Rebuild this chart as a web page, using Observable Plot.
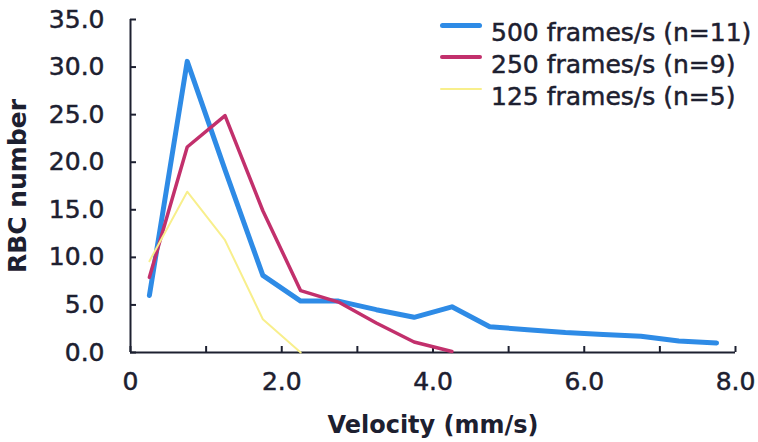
<!DOCTYPE html>
<html>
<head>
<meta charset="utf-8">
<script src="https://cdn.jsdelivr.net/npm/d3@7"></script>
<script src="https://cdn.jsdelivr.net/npm/@observablehq/plot@0.6"></script>
<style>
  html, body { margin: 0; padding: 0; background: #ffffff; }
  #wrap { position: relative; width: 758px; height: 442px; }
  #wrap svg text { stroke: #1d2030; stroke-width: 0.5px; }
  #wrap g[aria-label="x-axis label"] text { font-weight: bold; font-size: 24px; stroke-width: 0; }
  #wrap g[aria-label="y-axis label"] text { font-weight: bold; font-size: 25px; stroke-width: 0; }
  #legend {
    position: absolute; left: 440px; top: 16px;
    font-family: "DejaVu Sans", sans-serif; font-size: 25px; color: #1d2030;
    -webkit-text-stroke: 0.5px #1d2030;
  }
  .row { display: flex; align-items: center; height: 32px; white-space: nowrap; }
  .sw { width: 42px; margin-right: 9px; position: relative; top: -7px; border-radius: 3px; }
</style>
</head>
<body>
<div id="wrap"></div>
<script>
// ---- data ----
const seriesNames = ["500 frames/s (n=11)", "250 frames/s (n=9)", "125 frames/s (n=5)"];
const seriesColors = ["#2e8be6", "#c2306c", "#f8ef8c"];
const seriesWidths = [5, 3.5, 2];

const velocity500 = [0.25, 0.75, 1.25, 1.75, 2.25, 2.75, 3.25, 3.75, 4.25, 4.75, 5.25, 5.75, 6.25, 6.75, 7.25, 7.75];
const rbc500      = [6.0, 30.6, 19.2, 8.1, 5.4, 5.4, 4.5, 3.7, 4.8, 2.7, 2.4, 2.1, 1.9, 1.7, 1.2, 1.0];

const velocity250 = [0.25, 0.75, 1.25, 1.75, 2.25, 2.75, 3.25, 3.75, 4.25];
const rbc250      = [7.9, 21.6, 24.9, 14.9, 6.5, 5.3, 3.1, 1.1, 0.1];

const velocity125 = [0.25, 0.75, 1.25, 1.75, 2.25];
const rbc125      = [9.6, 16.9, 11.8, 3.5, 0.0];

const xTicks = [0, 1, 2, 3, 4, 5, 6, 7, 8];
const xLabelValues = [0, 2, 4, 6, 8];
const xLabelTexts = ["0", "2.0", "4.0", "6.0", "8.0"];
const yTicks = [0, 5, 10, 15, 20, 25, 30, 35];
const yLabelTexts = ["0.0", "5.0", "10.0", "15.0", "20.0", "25.0", "30.0", "35.0"];

// ---- build ----
const W = 758, H = 442;
const mL = 130, mR = 23, mT = 19, mB = 90;
const axisColor = "#1d2030";
const tickLen = 6;

const toRows = (vs, ys) => vs.map((v, i) => ({v, n: ys[i]}));
const series = [toRows(velocity500, rbc500), toRows(velocity250, rbc250), toRows(velocity125, rbc125)];

const plot = Plot.plot({
  width: W, height: H,
  marginLeft: mL, marginRight: mR, marginTop: mT, marginBottom: mB,
  style: { fontFamily: "DejaVu Sans, sans-serif", fontSize: "25px", color: axisColor, background: "#fff" },
  x: { domain: [0, 8] },
  y: { domain: [0, 35] },
  marks: [
    Plot.axisX(xLabelValues, {
      tickSize: 0, tickPadding: 20, fontSize: 25,
      tickFormat: (d) => xLabelTexts[xLabelValues.indexOf(d)],
      label: "Velocity (mm/s)", labelAnchor: "center", labelArrow: "none", labelOffset: 80
    }),
    Plot.axisY(yTicks, {
      tickSize: 0, tickPadding: 26, fontSize: 25,
      tickFormat: (d) => yLabelTexts[yTicks.indexOf(d)],
      label: "RBC number", labelAnchor: "center", labelArrow: "none", labelOffset: 122
    }),
    Plot.tickX(xTicks, { x: (d) => d, insetTop: H - mT - mB - tickLen, stroke: axisColor, strokeWidth: 2 }),
    Plot.tickY(yTicks, { y: (d) => d, insetRight: W - mL - mR - tickLen, stroke: axisColor, strokeWidth: 2 }),
    Plot.ruleX([0], { stroke: axisColor, strokeWidth: 2 }),
    Plot.ruleY([0], { stroke: axisColor, strokeWidth: 2 }),
    ...series.map((rows, i) => Plot.line(rows, {
      x: "v", y: "n", stroke: seriesColors[i], strokeWidth: seriesWidths[i],
      strokeLinejoin: "round", strokeLinecap: "round"
    }))
  ]
});

const wrap = document.getElementById("wrap");
wrap.appendChild(plot);

// legend (HTML overlay)
const legend = document.createElement("div");
legend.id = "legend";
seriesNames.forEach((name, i) => {
  const row = document.createElement("div");
  row.className = "row";
  const sw = document.createElement("span");
  sw.className = "sw";
  sw.style.height = Math.max(2, seriesWidths[i]) + "px";
  sw.style.background = seriesColors[i];
  const label = document.createElement("span");
  label.textContent = name;
  row.appendChild(sw);
  row.appendChild(label);
  legend.appendChild(row);
});
wrap.appendChild(legend);
</script>
</body>
</html>
